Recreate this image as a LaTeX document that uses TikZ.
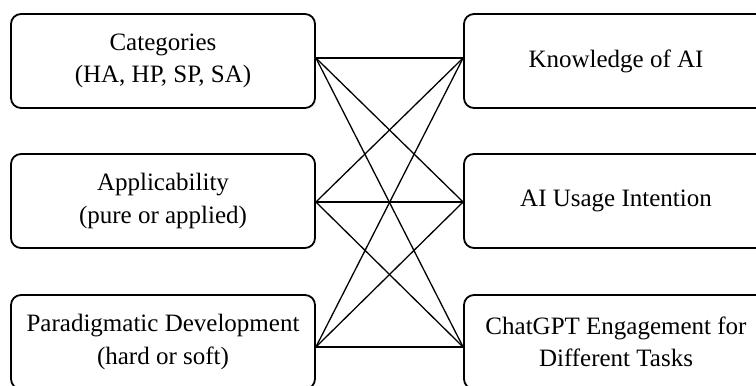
\documentclass[tikz,border=0pt]{standalone}
\usepackage{fontspec}
\setmainfont{Liberation Serif}
\begin{document}
\begin{tikzpicture}[x=1bp,y=1bp,
  box/.style={draw, line width=1.8bp, rounded corners=10bp, minimum width=304bp, minimum height=94bp,
    inner sep=0pt, align=center, font=\fontsize{25bp}{32.5bp}\selectfont},
  link/.style={line width=1.3bp}]
\useasboundingbox (0,0) rectangle (756,385);
\clip (0,0) rectangle (756,385);
\node[box] (l1) at (163,324) {Categories\\(HA, HP, SP, SA)};
\node[box] (l2) at (163,184) {Applicability\\(pure or applied)};
\node[box] (l3) at (163,43) {Paradigmatic Development\\(hard or soft)};
\node[box] (r1) at (616,324) {Knowledge of AI};
\node[box] (r2) at (616,184) {AI Usage Intention};
\node[box] (r3) at (616,43) {ChatGPT Engagement for\\Different Tasks};
\coordinate (a1) at ([yshift=3bp]l1.east);
\coordinate (a2) at ([yshift=-1bp]l2.east);
\coordinate (a3) at ([yshift=-5bp]l3.east);
\coordinate (b1) at ([yshift=3bp]r1.west);
\coordinate (b2) at ([yshift=-1bp]r2.west);
\coordinate (b3) at ([yshift=-5bp]r3.west);
\foreach \i in {1,2,3}{\foreach \j in {1,2,3}{\draw[link] (a\i) -- (b\j);}}
\end{tikzpicture}
\end{document}
